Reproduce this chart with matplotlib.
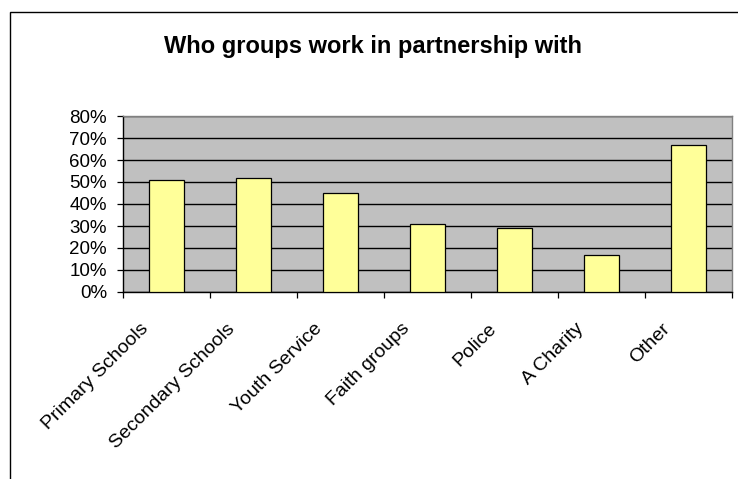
import matplotlib
matplotlib.use("Agg")
import matplotlib.pyplot as plt
import numpy as np
from matplotlib.patches import Rectangle
from matplotlib.transforms import blended_transform_factory

plt.rcParams['font.family'] = ['Liberation Sans', 'DejaVu Sans']

categories = ['Primary Schools', 'Secondary Schools', 'Youth Service',
              'Faith groups', 'Police', 'A Charity', 'Other']
share = [51, 52, 45, 31, 29, 17, 67]   # percent of groups
y_ticks = [0, 10, 20, 30, 40, 50, 60, 70, 80]

W, H = 738, 479
fig = plt.figure(figsize=(W / 100, H / 100), dpi=100)

# chart frame (runs off the right and bottom edge)
fig.patches.append(Rectangle((10 / W, -0.2), 1.2, 1.2 - 12 / H,
                             transform=fig.transFigure, fill=False,
                             edgecolor='black', linewidth=1.0))

ax = fig.add_axes([123 / W, 1 - 292 / H, (732 - 123) / W, (292 - 116) / H])
ax.set_facecolor('#C0C0C0')

x = np.arange(len(categories))
ax.bar(x, share, width=0.41, color='#FFFF99', edgecolor='black',
       linewidth=0.9, zorder=3)

ax.set_xlim(-0.5, len(categories) - 0.5)
ax.set_ylim(0, 80)
ax.set_yticks(y_ticks)
ax.set_yticklabels([f'{v}%' for v in y_ticks], fontsize=13.5)
ax.yaxis.grid(True, color='black', linewidth=1.0)
ax.set_axisbelow(True)

# category ticks sit on the boundaries between bars
ax.set_xticks(np.arange(len(categories) + 1) - 0.5)
ax.set_xticklabels([])
ax.tick_params(axis='both', direction='out', length=4.5, width=0.9,
               color='black')
ax.tick_params(axis='y', pad=7)

for side in ('top', 'right'):
    ax.spines[side].set_color('#808080')
    ax.spines[side].set_linewidth(1.0)
for side in ('left', 'bottom'):
    ax.spines[side].set_color('black')
    ax.spines[side].set_linewidth(1.0)

# slanted category labels ending just left of each bar
trans = blended_transform_factory(ax.transData, ax.transAxes)
for i, name in enumerate(categories):
    ax.text(i - 0.24, -0.195, name, transform=trans,
            rotation=45, rotation_mode='anchor', ha='right', va='center',
            fontsize=14)

fig.text(373 / W, 1 - 47 / H, 'Who groups work in partnership with',
         ha='center', va='center', fontsize=17, fontweight='bold')

fig.savefig('out.png', dpi=100)
